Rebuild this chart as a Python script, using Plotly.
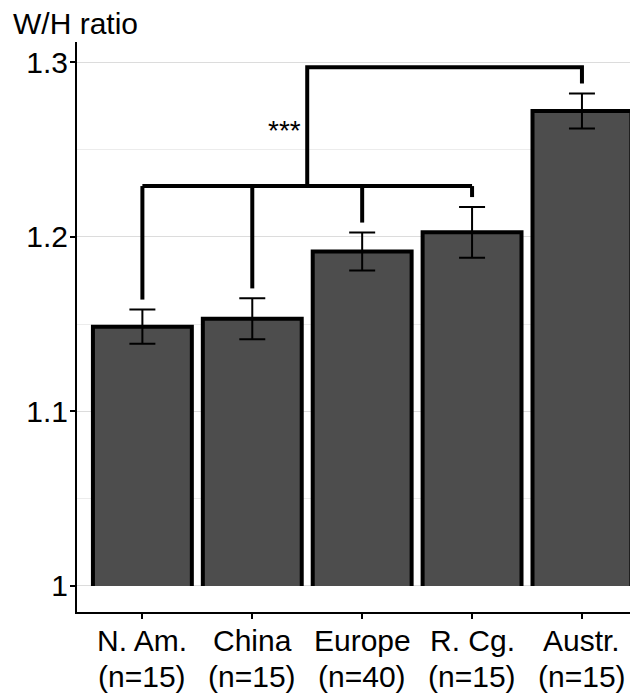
import plotly.graph_objects as go

categories = ["N. Am.", "China", "Europe", "R. Cg.", "Austr."]
sample_sizes = [15, 15, 40, 15, 15]
means = [1.1485, 1.1530, 1.1915, 1.2025, 1.2720]
errors = [0.0098, 0.0117, 0.0109, 0.0145, 0.0100]
y_tick_vals = [1.0, 1.1, 1.2, 1.3]
y_tick_text = ["1", "1.1", "1.2", "1.3"]
bar_base = 1.0

# significance brackets: lower bracket joins groups 0-3, upper joins that bracket to group 4
low_group = [0, 1, 2, 3]
high_group = 4
low_bracket_y = 1.229
high_bracket_y = 1.297
drop_gap = 0.0057
sig_label = "***"

FONT = "Liberation Sans, Arial, sans-serif"
FS = 30
BAR_W = 0.9
x = list(range(len(categories)))

fig = go.Figure()

# bar fills
fig.add_trace(go.Bar(
    x=x, y=[m - bar_base for m in means], base=bar_base, width=BAR_W,
    marker=dict(color="#4d4d4d", line=dict(width=0)), showlegend=False, hoverinfo="skip"))

# bar outlines (left, top, right only)
ox, oy = [], []
for xi, m in zip(x, means):
    ox += [xi - BAR_W / 2, xi - BAR_W / 2, xi + BAR_W / 2, xi + BAR_W / 2, None]
    oy += [bar_base, m, m, bar_base, None]
fig.add_trace(go.Scatter(x=ox, y=oy, mode="lines", line=dict(color="black", width=4),
                         showlegend=False, hoverinfo="skip"))

# error bars
fig.add_trace(go.Scatter(
    x=x, y=means, mode="markers", marker=dict(opacity=0, size=1),
    error_y=dict(type="data", array=errors, visible=True, color="black", thickness=2, width=13),
    showlegend=False, hoverinfo="skip"))

# brackets
tops = [m + e for m, e in zip(means, errors)]
bx, by = [], []
bx += [low_group[0], low_group[-1], None]
by += [low_bracket_y, low_bracket_y, None]
for g in low_group:
    bx += [g, g, None]
    by += [low_bracket_y, tops[g] + drop_gap, None]
mid = (low_group[0] + low_group[-1]) / 2
bx += [mid, mid, high_group, high_group]
by += [low_bracket_y, high_bracket_y, high_bracket_y, tops[high_group] + drop_gap]
fig.add_trace(go.Scatter(x=bx, y=by, mode="lines", line=dict(color="black", width=4),
                         showlegend=False, hoverinfo="skip"))

fig.add_annotation(x=mid, y=(low_bracket_y + high_bracket_y) / 2, xref="x", yref="y",
                   text=sig_label, showarrow=False, xanchor="right", yanchor="middle",
                   xshift=-4, yshift=-4, font=dict(family=FONT, size=28, color="black"))

fig.add_annotation(x=0, y=1, xref="paper", yref="paper", text="W/H ratio", showarrow=False,
                   xanchor="left", yanchor="bottom", xshift=-66, yshift=0,
                   font=dict(family=FONT, size=FS, color="black"))

# two-line category labels
for xi, c, n in zip(x, categories, sample_sizes):
    fig.add_annotation(x=xi, y=0, xref="x", yref="paper", text=c, showarrow=False,
                       xanchor="center", yanchor="top", yshift=-10,
                       font=dict(family=FONT, size=FS, color="black"))
    fig.add_annotation(x=xi, y=0, xref="x", yref="paper", text=f"(n={n})", showarrow=False,
                       xanchor="center", yanchor="top", yshift=-46,
                       font=dict(family=FONT, size=FS, color="black"))

# the page body adds an 8px margin, so the figure is 8px smaller on each side
fig.update_layout(
    width=630, height=685,
    margin=dict(l=69, r=0, t=34, b=81),
    plot_bgcolor="white", paper_bgcolor="white",
    font=dict(family=FONT, size=FS, color="black"),
    xaxis=dict(range=[-0.595, 4.51], tickvals=x, showticklabels=False, showline=True,
               linecolor="black", linewidth=2, ticks="outside", ticklen=5, tickwidth=1.5,
               tickcolor="black", showgrid=False, zeroline=False, automargin=False),
    yaxis=dict(range=[0.9851, 1.3115], tickvals=y_tick_vals, ticktext=y_tick_text,
               showline=True, linecolor="black", linewidth=2, ticks="outside", ticklen=5,
               tickwidth=1.5, tickcolor="black", showgrid=True, gridcolor="#dcdcdc",
               gridwidth=1, zeroline=False, automargin=False, ticklabelstandoff=-4,
               minor=dict(dtick=0.05, tick0=1.0, showgrid=True, gridcolor="#ececec", gridwidth=1, ticks=""),
               tickfont=dict(family=FONT, size=FS, color="black")),
)

fig.write_html("out.html")
